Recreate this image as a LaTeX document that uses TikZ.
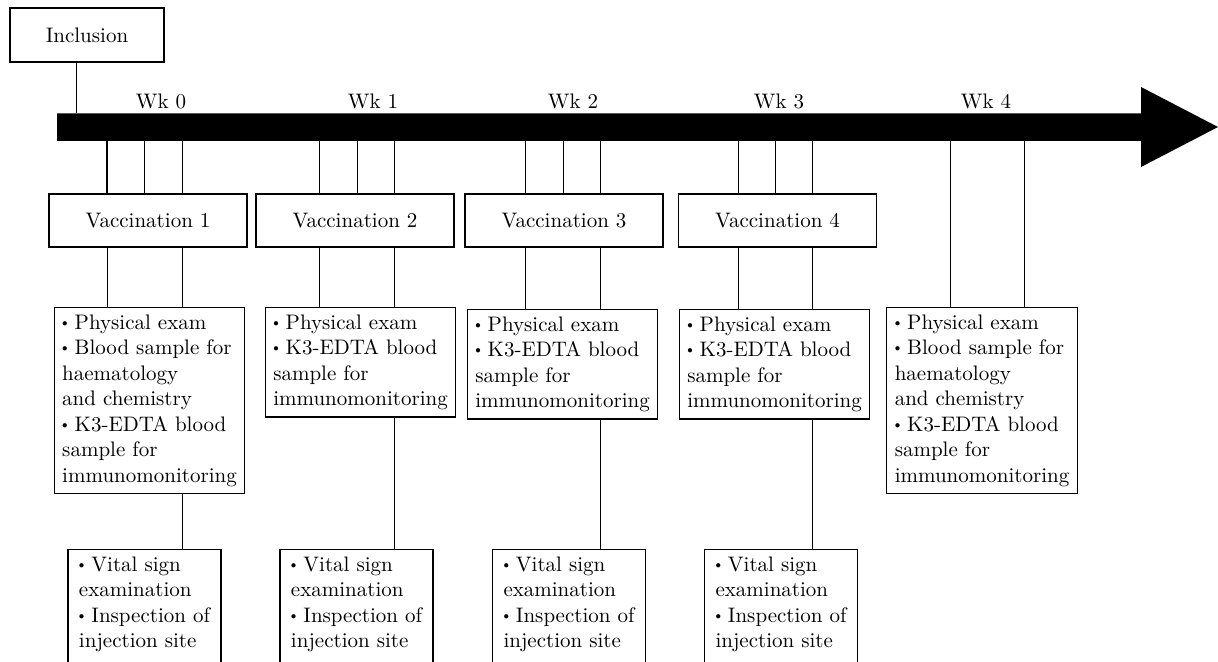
\documentclass[tikz,border=0pt]{standalone}
\usetikzlibrary{positioning}
\newcommand{\itm}{\raisebox{0.3ex}{\scalebox{0.5}{$\bullet$}}\ }
\newcommand{\lastline}{\rule[-14pt]{0pt}{0pt}}

\begin{document}
\begin{tikzpicture}[x=0.5pt, y=-0.5pt,
	every node/.style={font=\fontsize{10.5}{12.75}\selectfont},
	vaccbox/.style={draw, line width=0.6pt, minimum width=99pt, minimum height=26.5pt},
	listbox/.style={draw, line width=0.6pt, anchor=north, align=left, inner xsep=4pt, inner ysep=3.5pt},
	vitalbox/.style={listbox, minimum width=76.5pt},
	tick/.style={line width=0.5pt}]
	\useasboundingbox (0,0) rectangle (1218,662);
	\clip (0,0) rectangle (1218,662);

	% Time axis
	\fill (57,113.5) -- (1141,113.5) -- (1141,87) -- (1218,127) -- (1141,167) -- (1141,141) -- (57,141) -- cycle;

	% Inclusion
	\node[draw, line width=0.6pt, minimum width=77pt, minimum height=27pt] (Inclusion) at (87,35) {Inclusion};
	\coordinate (InclAxis) at (76,113.5);
	\draw[tick] (InclAxis) -- (InclAxis |- Inclusion.south);

	% Define Wk 0
	\node[anchor=base] (Wk0) at (161,109) {Wk 0};
	\coordinate (Tick0a) at (107,141);
	\coordinate (Tick0b) at (144,141);
	\coordinate (Tick0c) at (182,141);
	\node[vaccbox] (Vacc1) at (148,220.5) {Vaccination 1};
	\node[listbox] (Exam1) at (149.5,307) {\itm Physical exam\\ \itm Blood sample for\\ haematology\\ and chemistry\\ \itm K3-EDTA blood\\ sample for\\ immunomonitoring};
	\node[vitalbox] (Vital1) at (144.5,549) {\itm Vital sign\\ examination\\ \itm Inspection of\\ injection site\lastline};

	\draw[line width=0.9pt] (Tick0a) -- (Tick0a |- Vacc1.north);
	\draw[tick] (Tick0b) -- (Tick0b |- Vacc1.north);
	\draw[tick] (Tick0c) -- (Tick0c |- Vacc1.north);
	\draw[tick] (Tick0a |- Vacc1.south) -- (Tick0a |- Exam1.north);
	\draw[tick] (Tick0c |- Vacc1.south) -- (Tick0c |- Exam1.north);
	\draw[tick] (Tick0c |- Exam1.south) -- (Tick0c |- Vital1.north);

	% Define Wk 1
	\node[anchor=base] (Wk1) at (373,109) {Wk 1};
	\coordinate (Tick1a) at (319,141);
	\coordinate (Tick1b) at (357,141);
	\coordinate (Tick1c) at (394,141);
	\node[vaccbox] (Vacc2) at (355,220.5) {Vaccination 2};
	\node[listbox] (Exam2) at (360.5,307) {\itm Physical exam\\ \itm K3-EDTA blood\\ sample for\\ immunomonitoring};
	\node[vitalbox] (Vital2) at (356.5,549) {\itm Vital sign\\ examination\\ \itm Inspection of\\ injection site\lastline};

	\draw[tick] (Tick1a) -- (Tick1a |- Vacc2.north);
	\draw[tick] (Tick1b) -- (Tick1b |- Vacc2.north);
	\draw[tick] (Tick1c) -- (Tick1c |- Vacc2.north);
	\draw[tick] (Tick1a |- Vacc2.south) -- (Tick1a |- Exam2.north);
	\draw[tick] (Tick1c |- Vacc2.south) -- (Tick1c |- Exam2.north);
	\draw[tick] (Tick1c |- Exam2.south) -- (Tick1c |- Vital2.north);

	% Define Wk 2
	\node[anchor=base] (Wk2) at (573,109) {Wk 2};
	\coordinate (Tick2a) at (525,141);
	\coordinate (Tick2b) at (563,141);
	\coordinate (Tick2c) at (600,141);
	\node[vaccbox] (Vacc3) at (564,220.5) {Vaccination 3};
	\node[listbox] (Exam3) at (562.5,309) {\itm Physical exam\\ \itm K3-EDTA blood\\ sample for\\ immunomonitoring};
	\node[vitalbox] (Vital3) at (569,549) {\itm Vital sign\\ examination\\ \itm Inspection of\\ injection site\lastline};

	\draw[tick] (Tick2a) -- (Tick2a |- Vacc3.north);
	\draw[tick] (Tick2b) -- (Tick2b |- Vacc3.north);
	\draw[tick] (Tick2c) -- (Tick2c |- Vacc3.north);
	\draw[tick] (Tick2a |- Vacc3.south) -- (Tick2a |- Exam3.north);
	\draw[tick] (Tick2c |- Vacc3.south) -- (Tick2c |- Exam3.north);
	\draw[tick] (Tick2c |- Exam3.south) -- (Tick2c |- Vital3.north);

	% Define Wk 3
	\node[anchor=base] (Wk3) at (779,109) {Wk 3};
	\coordinate (Tick3a) at (738,141);
	\coordinate (Tick3b) at (775,141);
	\coordinate (Tick3c) at (812,141);
	\node[vaccbox] (Vacc4) at (777.5,220.5) {Vaccination 4};
	\node[listbox] (Exam4) at (774.5,309) {\itm Physical exam\\ \itm K3-EDTA blood\\ sample for\\ immunomonitoring};
	\node[vitalbox] (Vital4) at (781,549) {\itm Vital sign\\ examination\\ \itm Inspection of\\ injection site\lastline};

	\draw[tick] (Tick3a) -- (Tick3a |- Vacc4.north);
	\draw[tick] (Tick3b) -- (Tick3b |- Vacc4.north);
	\draw[tick] (Tick3c) -- (Tick3c |- Vacc4.north);
	\draw[tick] (Tick3a |- Vacc4.south) -- (Tick3a |- Exam4.north);
	\draw[tick] (Tick3c |- Vacc4.south) -- (Tick3c |- Exam4.north);
	\draw[tick] (Tick3c |- Exam4.south) -- (Tick3c |- Vital4.north);

	% Define Wk 4
	\node[anchor=base] (Wk4) at (986,109) {Wk 4};
	\coordinate (Tick4a) at (950,141);
	\coordinate (Tick4b) at (1024,141);
	\node[listbox] (Exam5) at (982,307) {\itm Physical exam\\ \itm Blood sample for\\ haematology\\ and chemistry\\ \itm K3-EDTA blood\\ sample for\\ immunomonitoring};

	\draw[tick] (Tick4a) -- (Tick4a |- Exam5.north);
	\draw[tick] (Tick4b) -- (Tick4b |- Exam5.north);
\end{tikzpicture}
\end{document}
